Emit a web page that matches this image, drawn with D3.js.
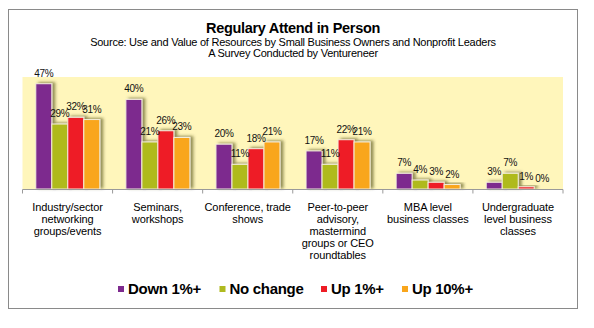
<!DOCTYPE html>
<html><head><meta charset="utf-8">
<script src="https://cdn.jsdelivr.net/npm/d3@7"></script>
<style>body{margin:0;background:#fff;} svg{display:block;font-family:"Liberation Sans",Arial,sans-serif;}</style>
</head><body>
<svg id="c" width="594" height="328"></svg>
<script>
const categories = [
  ["Industry/sector","networking","groups/events"],
  ["Seminars,","workshops"],
  ["Conference, trade","shows"],
  ["Peer-to-peer","advisory,","mastermind","groups or CEO","roundtables"],
  ["MBA level","business classes"],
  ["Undergraduate","level business","classes"]
];
const seriesNames = ["Down 1%+","No change","Up 1%+","Up 10%+"];
const down1 = [47,40,20,17,7,3];
const noChange = [29,21,11,11,4,7];
const up1 = [32,26,18,22,3,1];
const up10 = [31,23,21,21,2,0];
const colors = ["#7d2a8e","#afba1f","#ee1c25","#f9a61c"];
const series = [down1,noChange,up1,up10];

const svg = d3.select("#c");
const defs = svg.append("defs");
const f = defs.append("filter").attr("id","sh").attr("x","-50%").attr("y","-50%").attr("width","200%").attr("height","200%");
f.append("feGaussianBlur").attr("in","SourceAlpha").attr("stdDeviation",1.8).attr("result","b");
f.append("feOffset").attr("in","b").attr("dx",3).attr("dy",-1).attr("result","o");
f.append("feFlood").attr("flood-color","#3a3a00").attr("flood-opacity",0.55);
f.append("feComposite").attr("in2","o").attr("operator","in").attr("result","s");
const m = f.append("feMerge");
m.append("feMergeNode").attr("in","s");
m.append("feMergeNode").attr("in","SourceGraphic");

// frame
svg.append("rect").attr("x",8.5).attr("y",9.5).attr("width",569).attr("height",299)
  .attr("fill","#fff").attr("stroke","#8a8a8a").attr("stroke-width",1);

// titles
svg.append("text").attr("x",293).attr("y",33).attr("text-anchor","middle")
  .attr("font-size",14.5).attr("font-weight","bold").attr("fill","#000")
  .attr("letter-spacing",-0.3).text("Regulary Attend in Person");
svg.append("text").attr("x",293).attr("y",46).attr("text-anchor","middle")
  .attr("font-size",11).attr("fill","#000").attr("letter-spacing",-0.25)
  .text("Source: Use and Value of Resources by Small Business Owners and Nonprofit Leaders");
svg.append("text").attr("x",293).attr("y",57).attr("text-anchor","middle")
  .attr("font-size",11).attr("fill","#000").attr("letter-spacing",-0.25)
  .text("A Survey Conducted by Ventureneer");

const x0 = d3.scaleBand().domain(d3.range(categories.length)).range([22.5,563]).padding(0);
const x1 = d3.scaleBand().domain(d3.range(seriesNames.length)).range([13.3,77.3]).padding(0);
const y = d3.scaleLinear().domain([0,50]).range([189,77]);

svg.append("rect").attr("x",x0.range()[0]).attr("y",y(50)).attr("width",x0.range()[1]-x0.range()[0])
  .attr("height",y(0)-y(50)).attr("fill","#fff6bb");

const g = svg.append("g");
series.forEach((vals,si)=>{
  g.selectAll(null).data(vals).enter().append("rect")
    .attr("x",(d,i)=>x0(i)+x1(si))
    .attr("y",d=>y(d))
    .attr("width",x1.bandwidth())
    .attr("height",d=>y(0)-y(d))
    .attr("fill",colors[si])
    .attr("stroke","#f4eedc").attr("stroke-width",1)
    .attr("filter","url(#sh)");
});
series.forEach((vals,si)=>{
  g.selectAll(null).data(vals).enter().append("text")
    .attr("x",(d,i)=>x0(i)+x1(si)+x1.bandwidth()/2)
    .attr("y",d=>y(d)-7)
    .attr("text-anchor","middle").attr("font-size",10).attr("fill","#111")
    .attr("letter-spacing",-0.3)
    .text(d=>d+"%");
});

// axis
const axis = d3.axisBottom(x0).tickValues([]).tickSizeOuter(0);
const ax = svg.append("g").attr("transform","translate(0,189.5)");
ax.append("line").attr("x1",x0.range()[0]).attr("x2",x0.range()[1]).attr("stroke","#9a9a9a");
const bounds = d3.range(categories.length+1).map(i=> i<categories.length ? x0(i) : x0.range()[1]);
ax.selectAll(null).data(bounds).enter().append("line")
  .attr("x1",d=>d).attr("x2",d=>d).attr("y1",0).attr("y2",4).attr("stroke","#9a9a9a");

// category labels
categories.forEach((lines,i)=>{
  const t = svg.append("text").attr("text-anchor","middle").attr("font-size",11)
    .attr("fill","#000").attr("letter-spacing",-0.1);
  lines.forEach((ln,j)=>{
    t.append("tspan").attr("x",x0(i)+x0.bandwidth()/2).attr("y",211+j*12).text(ln);
  });
});

// legend
const legX = [118,219.5,321,402];
const lg = svg.append("g");
seriesNames.forEach((n,i)=>{
  lg.append("rect").attr("x",legX[i]).attr("y",286).attr("width",6).attr("height",6).attr("fill",colors[i]);
  lg.append("text").attr("x",legX[i]+10).attr("y",294).attr("font-size",15).attr("font-weight","bold")
    .attr("fill","#000").attr("letter-spacing",-0.3).text(n);
});
</script>
</body></html>
